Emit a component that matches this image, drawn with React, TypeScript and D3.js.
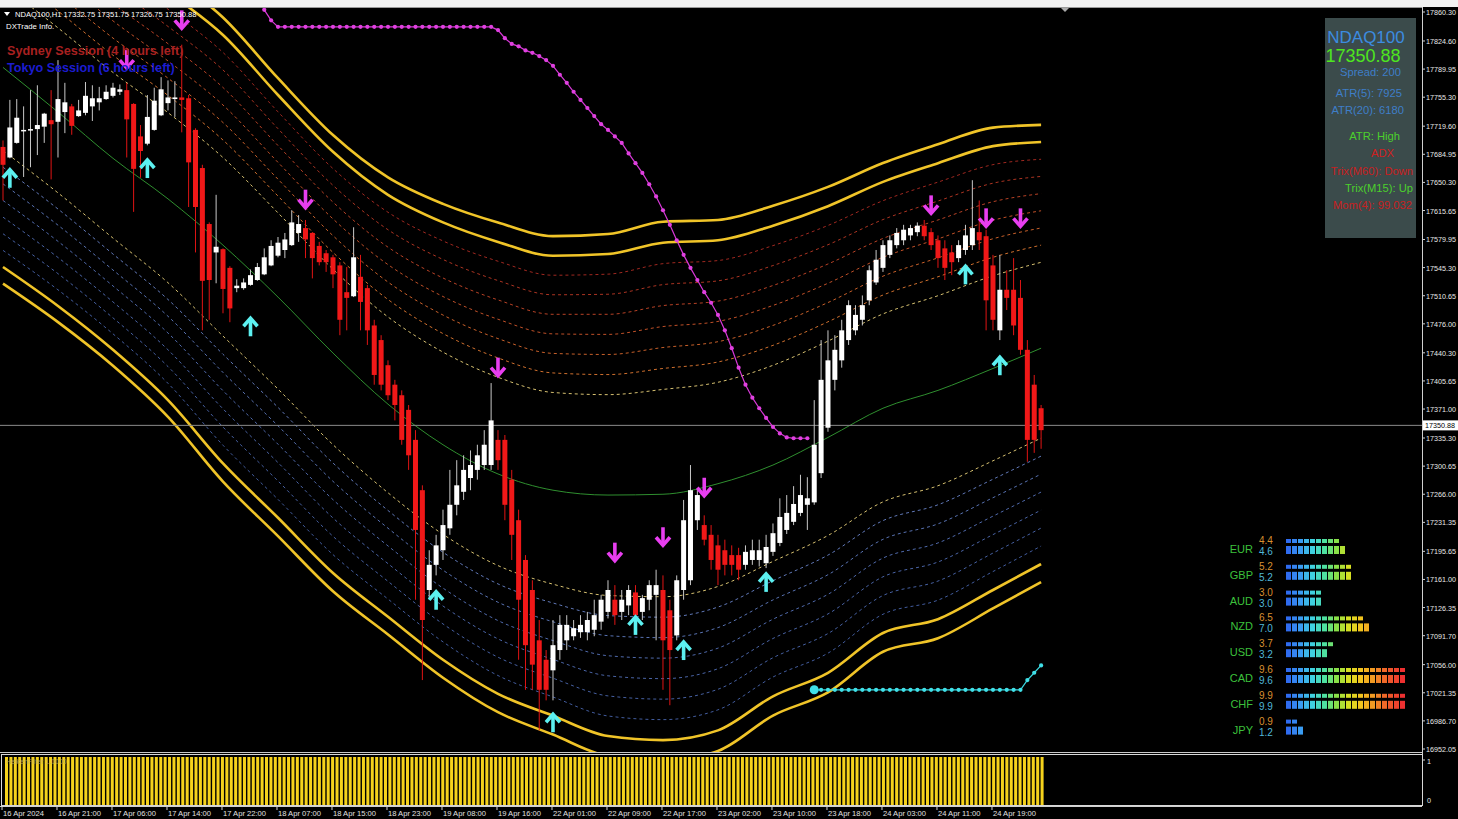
import React from 'react';
import * as d3 from 'd3';

const headerText = 'NDAQ100,H1  17332.75 17351.75 17326.75 17350.88';
const currentPrice = 17350.88;

const priceTicks = [17860.30, 17824.60, 17789.95, 17755.30, 17719.60, 17684.95, 17650.30, 17615.65, 17579.95, 17545.30, 17510.65, 17476.00, 17440.30, 17405.65, 17371.00, 17335.30, 17300.65, 17266.00, 17231.35, 17195.65, 17161.00, 17126.35, 17091.70, 17056.00, 17021.35, 16986.70, 16952.05];

const timeTickLabels = ['16 Apr 2024', '16 Apr 21:00', '17 Apr 06:00', '17 Apr 14:00', '17 Apr 22:00', '18 Apr 07:00', '18 Apr 15:00', '18 Apr 23:00', '19 Apr 08:00', '19 Apr 16:00', '22 Apr 01:00', '22 Apr 09:00', '22 Apr 17:00', '23 Apr 02:00', '23 Apr 10:00', '23 Apr 18:00', '24 Apr 03:00', '24 Apr 11:00', '24 Apr 19:00'];
const timeTickBars = [0, 8, 16, 24, 32, 40, 48, 56, 64, 72, 80, 88, 96, 104, 112, 120, 128, 136, 144];

// [open, high, low, close]
const candles: [number, number, number, number][] = [
  [17694, 17702, 17628, 17672], [17681, 17752, 17680, 17718], [17699, 17753, 17698, 17730], [17714, 17744, 17657, 17715],
  [17715, 17764, 17669, 17716], [17716, 17770, 17684, 17721], [17719, 17736, 17699, 17735], [17727, 17764, 17654, 17722],
  [17725, 17801, 17681, 17753], [17737, 17773, 17711, 17749], [17744, 17747, 17709, 17720], [17732, 17752, 17731, 17739],
  [17736, 17774, 17733, 17757], [17744, 17770, 17726, 17754], [17749, 17768, 17739, 17754], [17753, 17770, 17752, 17762],
  [17757, 17773, 17755, 17767], [17762, 17771, 17758, 17765], [17764, 17773, 17681, 17728], [17747, 17748, 17614, 17667],
  [17707, 17721, 17656, 17689], [17698, 17758, 17696, 17731], [17715, 17767, 17714, 17751], [17733, 17780, 17732, 17765],
  [17748, 17776, 17739, 17755], [17753, 17775, 17731, 17755], [17755, 17820, 17712, 17752], [17754, 17758, 17620, 17675],
  [17715, 17717, 17564, 17620], [17668, 17672, 17468, 17529], [17599, 17601, 17481, 17530], [17564, 17635, 17526, 17571],
  [17568, 17569, 17489, 17519], [17545, 17547, 17478, 17495], [17520, 17531, 17515, 17523], [17520, 17532, 17518, 17527],
  [17524, 17543, 17523, 17536], [17530, 17551, 17529, 17546], [17537, 17569, 17536, 17558], [17548, 17579, 17547, 17572],
  [17560, 17583, 17558, 17576], [17567, 17588, 17557, 17580], [17573, 17616, 17572, 17601], [17588, 17610, 17577, 17599],
  [17594, 17604, 17557, 17580], [17588, 17589, 17532, 17557], [17572, 17577, 17548, 17552], [17563, 17567, 17540, 17552],
  [17558, 17561, 17520, 17537], [17548, 17552, 17462, 17481], [17515, 17546, 17468, 17508], [17510, 17595, 17509, 17558],
  [17534, 17561, 17468, 17503], [17520, 17524, 17450, 17468], [17474, 17481, 17401, 17413], [17456, 17462, 17394, 17401],
  [17425, 17431, 17382, 17388], [17401, 17407, 17357, 17376], [17388, 17394, 17327, 17333], [17370, 17376, 17296, 17314],
  [17333, 17345, 17136, 17222], [17271, 17277, 17037, 17111], [17148, 17197, 17136, 17179], [17179, 17216, 17166, 17203],
  [17197, 17247, 17185, 17228], [17224, 17296, 17216, 17253], [17253, 17308, 17240, 17277], [17269, 17314, 17259, 17296],
  [17286, 17320, 17271, 17302], [17296, 17327, 17284, 17314], [17302, 17345, 17296, 17327], [17302, 17403, 17296, 17357],
  [17333, 17345, 17296, 17308], [17333, 17339, 17234, 17253], [17284, 17296, 17185, 17216], [17234, 17247, 17062, 17136],
  [17185, 17191, 17025, 17080], [17148, 17160, 17025, 17056], [17086, 17111, 16975, 17025], [17062, 17074, 17012, 17025],
  [17049, 17111, 17012, 17080], [17074, 17117, 17062, 17105], [17086, 17117, 17074, 17105], [17091, 17111, 17086, 17101],
  [17096, 17117, 17089, 17105], [17096, 17121, 17086, 17111], [17099, 17136, 17091, 17117], [17109, 17142, 17099, 17136],
  [17121, 17160, 17113, 17148], [17136, 17154, 17105, 17117], [17121, 17148, 17111, 17136], [17129, 17154, 17117, 17148],
  [17145, 17154, 17105, 17117], [17121, 17142, 17111, 17138], [17136, 17160, 17123, 17154], [17142, 17173, 17086, 17154],
  [17148, 17166, 17025, 17086], [17123, 17136, 17006, 17074], [17092, 17166, 17086, 17160], [17148, 17259, 17136, 17234],
  [17160, 17302, 17154, 17271], [17234, 17271, 17222, 17265], [17228, 17240, 17203, 17210], [17216, 17228, 17173, 17185],
  [17203, 17216, 17154, 17173], [17197, 17210, 17166, 17179], [17191, 17203, 17166, 17179], [17191, 17200, 17160, 17173],
  [17179, 17203, 17173, 17195], [17185, 17210, 17179, 17197], [17185, 17210, 17177, 17197], [17181, 17216, 17175, 17201],
  [17195, 17230, 17190, 17218], [17206, 17261, 17202, 17238], [17222, 17265, 17217, 17243], [17232, 17276, 17228, 17254],
  [17243, 17290, 17239, 17265], [17253, 17287, 17222, 17261], [17256, 17382, 17253, 17327], [17292, 17456, 17286, 17407],
  [17348, 17468, 17343, 17431], [17407, 17462, 17394, 17444], [17431, 17481, 17422, 17468], [17456, 17505, 17450, 17499],
  [17468, 17499, 17462, 17487], [17481, 17511, 17474, 17499], [17505, 17548, 17499, 17542], [17527, 17567, 17524, 17555],
  [17545, 17579, 17540, 17573], [17561, 17585, 17557, 17579], [17573, 17594, 17569, 17588], [17579, 17598, 17573, 17592],
  [17585, 17598, 17579, 17594], [17589, 17601, 17584, 17597], [17597, 17604, 17579, 17584], [17589, 17594, 17567, 17573],
  [17579, 17585, 17545, 17557], [17569, 17579, 17530, 17545], [17564, 17573, 17536, 17552], [17557, 17579, 17552, 17573],
  [17567, 17598, 17561, 17585], [17573, 17653, 17567, 17594], [17589, 17628, 17567, 17579], [17584, 17592, 17468, 17505],
  [17548, 17561, 17468, 17481], [17468, 17561, 17456, 17518], [17518, 17542, 17493, 17508], [17518, 17557, 17462, 17474],
  [17508, 17530, 17438, 17444], [17444, 17456, 17306, 17333], [17401, 17413, 17317, 17333], [17372, 17376, 17322, 17345],
];

// Envelope bands (sampled bars)
const bandBars = [0, 8, 16, 24, 32, 40, 48, 56, 64, 72, 80, 88, 96, 104, 112, 120, 128, 136, 144, 151];
const bandCenter = [17792, 17737, 17680, 17630, 17573, 17509, 17440, 17377, 17327, 17291, 17271, 17265, 17266, 17279, 17302, 17336, 17372, 17394, 17421, 17446];
const bandUpper = [18035, 17986, 17934, 17885, 17832, 17758, 17688, 17635, 17601, 17577, 17560, 17562, 17576, 17579, 17597, 17621, 17651, 17674, 17695, 17700];
const bandLower = [17546, 17498, 17444, 17382, 17304, 17237, 17169, 17115, 17062, 17020, 16993, 16968, 16963, 16975, 17017, 17046, 17095, 17112, 17148, 17180];

// Magenta dotted trailing line
const sarStart = 38;
const sarValues = [17863, 17850, 17842,
  17842, 17842, 17842, 17842, 17842, 17842, 17842, 17842, 17842, 17842, 17842, 17842, 17842, 17842, 17842, 17842,
  17842, 17842, 17842, 17842, 17842, 17842, 17842, 17842, 17842, 17842, 17842, 17842, 17842, 17842, 17842,
  17838, 17828, 17821, 17818, 17813, 17810, 17806, 17801, 17794, 17783, 17773, 17762, 17752, 17742, 17732, 17722,
  17715, 17707, 17699, 17686, 17674, 17662, 17648, 17633, 17616, 17598, 17579, 17561, 17545, 17530, 17515, 17502,
  17487, 17468, 17446, 17422, 17401, 17385, 17372, 17360, 17349, 17341, 17336, 17335, 17335, 17335];

// Cyan dotted line
const cyanStart = 118;
const cyanValues = [17025, 17025, 17025, 17025, 17025, 17025, 17025, 17025, 17025, 17025, 17025, 17025, 17025, 17025, 17025, 17025,
  17025, 17025, 17025, 17025, 17025, 17025, 17025, 17025, 17025, 17025, 17025, 17025, 17025, 17025, 17025, 17037, 17046, 17055];

// Arrow signals: [bar, price]
const upArrows: [number, number][] = [[1, 17656], [21, 17668], [36, 17473], [63, 17136], [80, 16985], [92, 17105], [99, 17074], [111, 17158], [140, 17537], [145, 17425]];
const downArrows: [number, number][] = [[18, 17801], [26, 17850], [44, 17629], [72, 17422], [89, 17194], [96, 17213], [102, 17274], [135, 17622], [143, 17606], [148, 17606]];

// Lower filter panel
const filterValues = Array(236).fill(1);

// Info panel
const infoSymbol = 'NDAQ100';
const infoPrice = '17350.88';
const infoLines = ['Spread: 200', 'ATR(5): 7925', 'ATR(20): 6180', 'ATR: High', 'ADX', 'Trix(M60): Down', 'Trix(M15): Up', 'Mom(4): 99.032'];

// Currency strength
const currencies = ['EUR', 'GBP', 'AUD', 'NZD', 'USD', 'CAD', 'CHF', 'JPY'];
const strengthA = [4.4, 5.2, 3.0, 6.5, 3.7, 9.6, 9.9, 0.9];
const strengthB = [4.6, 5.2, 3.0, 7.0, 3.2, 9.6, 9.9, 1.2];

const W = 1458;
const H = 819;

export default function App() {
  const x = d3.scaleLinear().domain([0, 151]).range([3, 1041.1]);
  const y = d3.scaleLinear().domain([16952.05, 17860.30]).range([749, 12]);

  const bandLine = (k: number, side: number[]) => {
    const pts: [number, number][] = bandBars.map((b, j) => [x(b), y(bandCenter[j] + (side[j] - bandCenter[j]) * k / 12)]);
    return d3.line().curve(d3.curveMonotoneX)(pts) || '';
  };
  const centerPath = d3.line().curve(d3.curveMonotoneX)(bandBars.map((b, j) => [x(b), y(bandCenter[j])] as [number, number])) || '';

  const upperCols = ['#d6c070', '#d0702e', '#c8602a', '#c05028', '#b84226', '#ac3422', '#a02820'];
  const lowerCols = ['#d6c070', '#6078b8', '#5872b2', '#506aac', '#4a64a6', '#4660a2', '#425c9e'];

  const sarPts: [number, number][] = sarValues.map((v, i) => [x(sarStart + i), y(v)]);
  const cyanPts: [number, number][] = cyanValues.map((v, i) => [x(cyanStart + i), y(v)]);

  const stripeX = d3.scaleLinear().domain([0, filterValues.length]).range([5, 1045]);
  const fy = d3.scaleLinear().domain([0, 1]).range([805, 757]);

  const colorIdx = d3.scaleLinear<string>()
    .domain([0, 2, 4, 6, 8, 10, 12, 14, 16, 19])
    .range(['#2f6cf0', '#3a9cf2', '#3fd0e0', '#4ee0a0', '#8ae048', '#d6e022', '#f2c41e', '#f29a22', '#f06828', '#ee3030']);

  const font = "'Liberation Sans', Arial, sans-serif";
  const axisFont = 7.2;

  return (
    <div style={{ position: 'fixed', left: 0, top: 0 }}>
      <svg width={W} height={H} style={{ display: 'block', background: '#000' }}>
        <rect x={0} y={0} width={W} height={7} fill="#f2f2f2" />
        <rect x={0} y={7} width={W} height={H - 7} fill="#000" />
        <line x1={0} x2={1422} y1={7.5} y2={7.5} stroke="#9a9a9a" />
        <defs>
          <clipPath id="main"><rect x={0} y={8} width={1422} height={744} /></clipPath>
        </defs>

        <g clipPath="url(#main)">
          {[5, 6, 7, 8, 9, 10, 11].map((k, j) => (
            <path key={'u' + k} d={bandLine(k, bandUpper)} fill="none" stroke={upperCols[j]} strokeWidth={1} strokeDasharray="3,3" />
          ))}
          {[5, 6, 7, 8, 9, 10, 11].map((k, j) => (
            <path key={'l' + k} d={bandLine(k, bandLower)} fill="none" stroke={lowerCols[j]} strokeWidth={1} strokeDasharray="3,3" />
          ))}
          {[12, 13].map((k) => (
            <path key={'uy' + k} d={bandLine(k, bandUpper)} fill="none" stroke="#f0c428" strokeWidth={2.6} />
          ))}
          {[12, 13].map((k) => (
            <path key={'ly' + k} d={bandLine(k, bandLower)} fill="none" stroke="#f0c428" strokeWidth={2.6} />
          ))}
          <path d={centerPath} fill="none" stroke="#2f8f2f" strokeWidth={1} />

          <line x1={0} x2={1422} y1={y(currentPrice)} y2={y(currentPrice)} stroke="#8a8a8a" strokeWidth={1} />

          <path d={d3.line()(sarPts) || ''} fill="none" stroke="#d838d8" strokeWidth={1.2} />
          {sarPts.map((p, i) => <circle key={'s' + i} cx={p[0]} cy={p[1]} r={2.1} fill="#e040e0" />)}

          <path d={d3.line()(cyanPts) || ''} fill="none" stroke="#3ad8e0" strokeWidth={1.2} />
          {cyanPts.map((p, i) => <circle key={'c' + i} cx={p[0]} cy={p[1]} r={i === 0 ? 4.5 : 2.1} fill="#40e0e8" />)}

          {candles.map(([o, h, l, c], i) => {
            const up = c >= o;
            const cx = x(i);
            const top = y(Math.max(o, c));
            const bot = y(Math.min(o, c));
            return (
              <g key={'k' + i}>
                <line x1={cx} x2={cx} y1={y(h)} y2={y(l)} stroke={up ? '#c8c8c8' : '#e01414'} strokeWidth={1} />
                <rect x={cx - 2.5} y={top} width={5} height={Math.max(1.5, bot - top)} fill={up ? '#ffffff' : '#f01818'} />
              </g>
            );
          })}

          {upArrows.map(([b, p], i) => {
            const cx = x(b), cy = y(p);
            return (
              <g key={'ua' + i} stroke="#5cf0f0" strokeWidth={3.6} fill="none" strokeLinecap="butt">
                <line x1={cx} x2={cx} y1={cy + 10} y2={cy - 7} />
                <polyline points={`${cx - 7},${cy} ${cx},${cy - 8} ${cx + 7},${cy}`} />
              </g>
            );
          })}
          {downArrows.map(([b, p], i) => {
            const cx = x(b), cy = y(p);
            return (
              <g key={'da' + i} stroke="#e83ef0" strokeWidth={3.6} fill="none" strokeLinecap="butt">
                <line x1={cx} x2={cx} y1={cy - 10} y2={cy + 7} />
                <polyline points={`${cx - 7},${cy} ${cx},${cy + 8} ${cx + 7},${cy}`} />
              </g>
            );
          })}
        </g>

        <path d="M4,12 L10,12 L7,16 Z" fill="#fff" />
        <text x={15} y={17} fill="#fff" fontSize={7.6} fontFamily={font}>{headerText}</text>
        <text x={6} y={29} fill="#fff" fontSize={7.8} fontFamily={font}>DXTrade Info.</text>
        <text x={7} y={55} fill="#a82020" fontSize={12.6} fontWeight="bold" fontFamily={font}>Sydney Session (4 hours left)</text>
        <text x={7} y={72} fill="#1c1cd0" fontSize={12.6} fontWeight="bold" fontFamily={font}>Tokyo Session (6 hours left)</text>
        <path d="M1061,8 L1069,8 L1065,12 Z" fill="#aaa" />

        <line x1={1422.5} x2={1422.5} y1={7} y2={806} stroke="#d0d0d0" />
        {priceTicks.map((p, i) => (
          <g key={'pt' + i}>
            <line x1={1422} x2={1425} y1={y(p)} y2={y(p)} stroke="#d0d0d0" />
            <text x={1426} y={y(p) + 3} fill="#e8e8e8" fontSize={axisFont} fontFamily={font}>{p.toFixed(2)}</text>
          </g>
        ))}
        <rect x={1423} y={y(currentPrice) - 5} width={35} height={10} fill="#fff" />
        <text x={1425} y={y(currentPrice) + 3} fill="#000" fontSize={axisFont} fontFamily={font}>{currentPrice.toFixed(2)}</text>

        <rect x={1325} y={18} width={91} height={220} fill="#3b4b4b" />
        <text x={1366} y={43} textAnchor="middle" fill="#3c8ce0" fontSize={17} fontFamily={font}>{infoSymbol}</text>
        <text x={1363} y={62} textAnchor="middle" fill="#4ee61e" fontSize={18} fontFamily={font}>{infoPrice}</text>
        {infoLines.map((t, i) => {
          const ys = [76, 97, 114, 140, 157, 175, 192, 209];
          const xe = [1401, 1402, 1404, 1400, 1394, 1413, 1413, 1412];
          const cols = ['#3e7ec8', '#3e7ec8', '#3e7ec8', '#4cd02c', '#d02020', '#c82020', '#4cd02c', '#c82020'];
          return <text key={'il' + i} x={xe[i]} y={ys[i]} textAnchor="end" fill={cols[i]} fontSize={11.2} fontFamily={font}>{t}</text>;
        })}

        {currencies.map((cur, r) => {
          const base = 540 + r * 25.8;
          const nA = Math.ceil(strengthA[r] * 2);
          const nB = Math.ceil(strengthB[r] * 2);
          return (
            <g key={'cur' + r}>
              <text x={1253} y={base + 13} textAnchor="end" fill="#3cc03c" fontSize={11} fontFamily={font}>{cur}</text>
              <text x={1259} y={base + 4} fill="#d89030" fontSize={10} fontFamily={font}>{strengthA[r].toFixed(1)}</text>
              <text x={1259} y={base + 15} fill="#50b8d8" fontSize={10} fontFamily={font}>{strengthB[r].toFixed(1)}</text>
              {d3.range(nA).map((j) => <rect key={'a' + j} x={1286 + j * 6} y={base - 1} width={5} height={4} fill={colorIdx(j)} />)}
              {d3.range(nB).map((j) => <rect key={'b' + j} x={1286 + j * 6} y={base + 6} width={5} height={8} fill={colorIdx(j)} />)}
            </g>
          );
        })}

        <line x1={0} x2={1422} y1={752.5} y2={752.5} stroke="#c8c8c8" />
        <rect x={1.5} y={754.5} width={1421} height={51} fill="#000" stroke="#d8d8d8" />
        {filterValues.map((v, i) => (
          <rect key={'f' + i} x={stripeX(i)} y={fy(v)} width={3} height={fy(0) - fy(v)} fill="#f5d21c" />
        ))}
        <text x={6} y={764} fill="#b8a860" fontSize={7} fontFamily={font} opacity={0.8}>HeikenFilter 1.0000</text>
        <line x1={1422} x2={1425} y1={760} y2={760} stroke="#d0d0d0" />
        <text x={1427} y={764} fill="#e8e8e8" fontSize={axisFont} fontFamily={font}>1</text>
        <text x={1427} y={803} fill="#e8e8e8" fontSize={axisFont} fontFamily={font}>0</text>

        <line x1={0} x2={1422} y1={806.5} y2={806.5} stroke="#d0d0d0" />
        {timeTickBars.map((b, i) => (
          <g key={'tt' + i}>
            <line x1={x(b) - 1} x2={x(b) - 1} y1={806} y2={810} stroke="#d0d0d0" />
            <text x={x(b)} y={816} fill="#e0e0e0" fontSize={7.6} fontFamily={font}>{timeTickLabels[i]}</text>
          </g>
        ))}
      </svg>
    </div>
  );
}
